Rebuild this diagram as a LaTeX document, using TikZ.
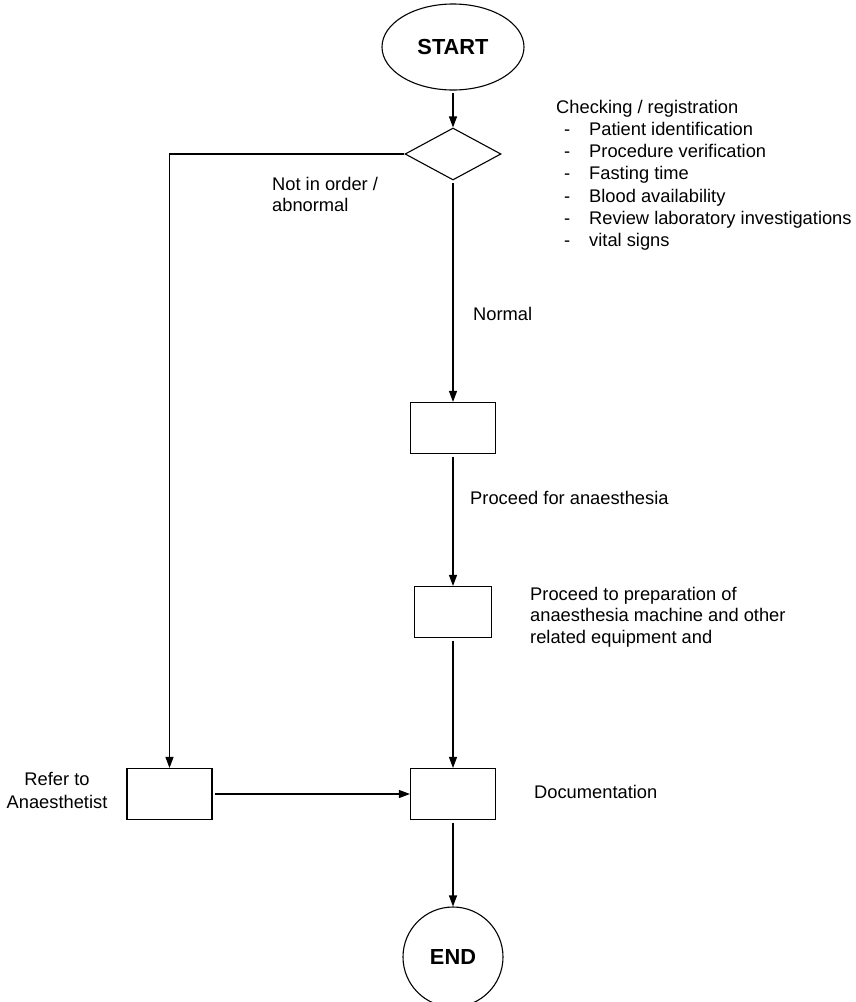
\documentclass[tikz,border=0pt]{standalone}
\usepackage{fontspec}
\setmainfont{Liberation Sans}
\usetikzlibrary{shapes.geometric,arrows.meta}
\begin{document}
\begin{tikzpicture}[x=1pt,y=-1pt,
  flow/.style={draw, line width=1.1pt, inner sep=0pt},
  terminal/.style={flow, font=\fontsize{21.8}{26}\selectfont\bfseries},
  procbox/.style={flow, rectangle, minimum width=85pt, minimum height=51pt},
  lbl/.style={inner sep=0pt, anchor=base west, font=\fontsize{18.3}{22}\selectfont},
  arr/.style={-{Triangle[length=11pt,width=8pt]}, line width=1.1pt, shorten <=2.5pt}]
\useasboundingbox (0,0) rectangle (855,1002);

% flow elements
\node[terminal, ellipse, minimum width=142pt, minimum height=86pt] (start) at (453,47) {START};
\node[flow, diamond, minimum width=96pt, minimum height=52pt] (check) at (453,154) {};
\node[procbox] (box1) at (453,428) {};
\node[procbox, minimum width=77pt] (box2) at (453,612) {};
\node[procbox] (doc) at (453,794) {};
\node[procbox] (refer) at (169.5,794) {};
\node[terminal, circle, minimum size=100pt] (end) at (453,957) {END};

% connectors
\draw[arr] (start.south) -- (check.north);
\draw[arr] (check.south) -- (box1.north);
\draw[arr] (box1.south) -- (box2.north);
\draw[arr] (box2.south) -- (doc.north);
\draw[arr] (doc.south) -- (end.north);
\draw[arr, shorten <=0pt] (check.west) -| (refer.north);
\draw[arr] (refer.east) -- (doc.west);

% checklist
\node[lbl] (chk) at (556,113) {Checking / registration};
\foreach \t [count=\i] in {Patient identification, Procedure verification,
    Fasting time, Blood availability, Review laboratory investigations, vital signs}{
  \node[lbl] (dash\i) at (564,{113+22.3*\i}) {-};
  \node[lbl] (item\i) at (589,{113+22.3*\i}) {\t};
}

% branch and step labels
\node[lbl] (notok1) at (272,190) {Not in order /};
\node[lbl] (notok2) at (272,211) {abnormal};
\node[lbl] (normal) at (473,320) {Normal};
\node[lbl] (proceed) at (470,504) {Proceed for anaesthesia};
\node[lbl] (prep1) at (530,600) {Proceed to preparation of};
\node[lbl] (prep2) at (530,621.5) {anaesthesia machine and other};
\node[lbl] (prep3) at (530,643) {related equipment and};
\node[lbl, anchor=base] (ref1) at (57,785) {Refer to};
\node[lbl, anchor=base] (ref2) at (57,808) {Anaesthetist};
\node[lbl] (docl) at (534,798) {Documentation};
\end{tikzpicture}
\end{document}
